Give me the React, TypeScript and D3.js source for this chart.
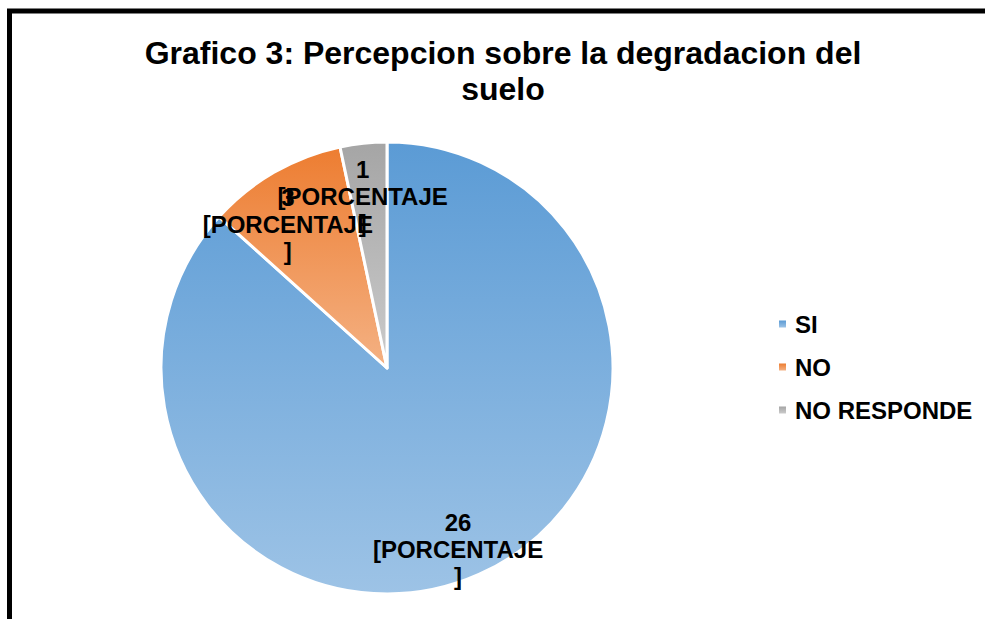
import React from "react";
import * as d3 from "d3";

const categories = ["SI", "NO", "NO RESPONDE"];
const values = [26, 3, 1];
const labelLines = [
  ["26", "[PORCENTAJE", "]"],
  ["3", "[PORCENTAJE", "]"],
  ["1", "[PORCENTAJE", "]"],
];
const titleLines = ["Grafico 3: Percepcion sobre la degradacion del", "suelo"];

const colorsTop = ["#5B9BD5", "#ED7D31", "#A5A5A5"];
const colorsBottom = ["#9DC3E6", "#F4B183", "#CBCBCB"];
// layout-only nudges for label blocks (Excel best-fit placement)
const labelRadiusFrac = [0.86, 0.86, 0.86];
const labelNudgeY = [4, 25, 22];
const labelNudgeX = [-8, -2, -4];

const W = 985;
const H = 619;
const cx = 387;
const cy = 368;
const R = 226;
const FONT = "'Liberation Sans', Arial, sans-serif";

export default function App() {
  const pie = d3
    .pie<number>()
    .sort(null)
    .startAngle(0)
    .endAngle(2 * Math.PI)(values);
  const arc = d3.arc<d3.PieArcDatum<number>>().innerRadius(0).outerRadius(R);

  const legendY = d3
    .scalePoint<string>()
    .domain(categories)
    .range([324, 410]);

  return (
    <div style={{ position: "absolute", left: 0, top: 0 }}>
      <svg width={W} height={H} style={{ display: "block" }} fontFamily={FONT}>
        <defs>
          {categories.map((c, i) => (
            <linearGradient key={c} id={`g${i}`} x1="0" y1="0" x2="0" y2="1">
              <stop offset="0" stopColor={colorsTop[i]} />
              <stop offset="1" stopColor={colorsBottom[i]} />
            </linearGradient>
          ))}
        </defs>
        <rect x={0} y={0} width={W} height={H} fill="#fff" />
        <rect x={9.5} y={11} width={W + 20} height={H + 20} fill="none" stroke="#000" strokeWidth={5} />
        <text textAnchor="middle" fontWeight="bold" fontSize={32} fill="#000">
          {titleLines.map((t, i) => (
            <tspan key={i} x={503} y={64 + i * 36}>
              {t}
            </tspan>
          ))}
        </text>
        <g transform={`translate(${cx},${cy})`}>
          {pie.map((d, i) => (
            <path key={i} d={arc(d) || ""} fill={`url(#g${i})`} stroke="#fff" strokeWidth={3} strokeLinejoin="round" />
          ))}
          {pie.map((d, i) => {
            const lr = R * labelRadiusFrac[i];
            const la = d3.arc<d3.PieArcDatum<number>>().innerRadius(lr).outerRadius(lr);
            const [x, y] = la.centroid(d);
            const lx = x + labelNudgeX[i];
            const ly = y + labelNudgeY[i];
            const lines = labelLines[i];
            const lh = 27;
            return (
              <text key={`l${i}`} textAnchor="middle" fontWeight="bold" fontSize={24} fill="#000">
                {lines.map((t, j) => (
                  <tspan key={j} x={lx} y={ly + (j - (lines.length - 1) / 2) * lh + 8}>
                    {t}
                  </tspan>
                ))}
              </text>
            );
          })}
        </g>
        <g>
          {categories.map((c, i) => {
            const y = legendY(c) as number;
            return (
              <g key={c}>
                <rect x={779} y={y - 3.5} width={7} height={7} fill={`url(#g${i})`} />
                <text x={795} y={y + 9} fontWeight="bold" fontSize={24} fill="#000">
                  {c}
                </text>
              </g>
            );
          })}
        </g>
      </svg>
    </div>
  );
}
